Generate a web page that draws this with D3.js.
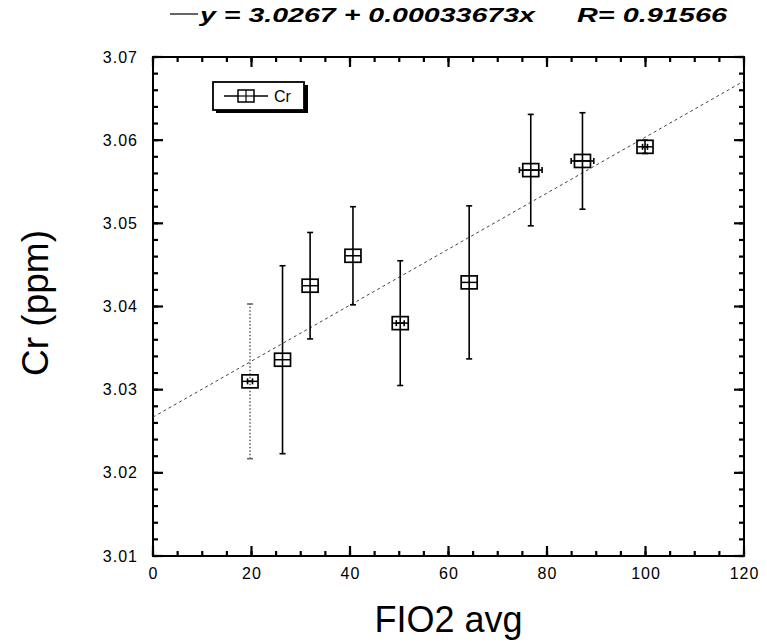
<!DOCTYPE html>
<html>
<head>
<meta charset="utf-8">
<script src="https://cdn.jsdelivr.net/npm/d3@7"></script>
<style>
  html, body { margin: 0; padding: 0; background: #fff; }
  svg { display: block; font-family: "Liberation Sans", Arial, sans-serif; }
</style>
</head>
<body>
<svg id="chart" width="767" height="642"></svg>
<script>
// ---- data ----
const fio2   = [19.7, 26.3, 31.9, 40.6, 50.2, 64.2, 76.7, 87.2, 99.9];
const cr     = [3.0310, 3.0336, 3.0425, 3.0461, 3.0380, 3.0429, 3.0564, 3.0575, 3.0592];
const crErr  = [0.0093, 0.0113, 0.0064, 0.0059, 0.0075, 0.0092, 0.0067, 0.0058, 0.0008];
const fioErr = [0.5, 0, 0, 0, 0.8, 0, 2.3, 2.3, 0.5];
const fitIntercept = 3.0267;
const fitSlope = 0.00033673;
const xTicks = [0, 20, 40, 60, 80, 100, 120];
const yTicks = [3.01, 3.02, 3.03, 3.04, 3.05, 3.06, 3.07];
const titleEq = "y = 3.0267 + 0.00033673x";
const titleR = "R= 0.91566";
const legendLabel = "Cr";

const svg = d3.select("#chart");
const L = 153, R = 744, T = 57, B = 556;
const x = d3.scaleLinear().domain([0, 120]).range([L, R]);
const y = d3.scaleLinear().domain([3.01, 3.07]).range([B, T]);

const xMinor = d3.range(0, 121, 5);
const yMinor = d3.range(0, 31).map(i => 3.01 + i * 0.002);

function styleLabels(g) {
  g.select(".domain").remove();
  g.selectAll(".tick line").remove();
  g.selectAll(".tick text").attr("fill", "#000").style("font-size", "16px")
    .attr("letter-spacing", "1px");
}
svg.append("g").attr("transform", `translate(0,${B})`)
  .call(d3.axisBottom(x).tickValues(xTicks).tickSize(0).tickPadding(12).tickFormat(d3.format("d")))
  .call(styleLabels);
svg.append("g").attr("transform", `translate(${L},0)`)
  .call(d3.axisLeft(y).tickValues(yTicks).tickSize(0).tickPadding(15).tickFormat(d3.format(".2f")))
  .call(styleLabels);

// inward tick marks on all four sides, positioned by the scales
const tg = svg.append("g");
function addLines(vals, fx1, fx2, fy1, fy2, w) {
  vals.forEach(d => {
    tg.append("line").attr("x1", fx1(d)).attr("x2", fx2(d)).attr("y1", fy1(d)).attr("y2", fy2(d))
      .style("stroke", "#000").style("stroke-width", w + "px");
  });
}
function xTickMarks(vals, len, w) {
  addLines(vals, d => x(d), d => x(d), () => B, () => B - len, w);
  addLines(vals, d => x(d), d => x(d), () => T, () => T + len, w);
}
function yTickMarks(vals, len, w) {
  addLines(vals, () => L, () => L + len, d => y(d), d => y(d), w);
  addLines(vals, () => R, () => R - len, d => y(d), d => y(d), w);
}
xTickMarks(xMinor, 5, 2.2);
yTickMarks(yMinor, 5, 2.2);
xTickMarks(xTicks, 10, 2.2);
yTickMarks(yTicks, 10, 2.2);

// frame
svg.append("rect").attr("x", L).attr("y", T).attr("width", R - L).attr("height", B - T)
  .attr("fill", "none").attr("stroke", "#000").attr("stroke-width", 2);

// fit line
svg.append("line")
  .attr("x1", x(0)).attr("y1", y(fitIntercept))
  .attr("x2", x(120)).attr("y2", y(fitIntercept + fitSlope * 120))
  .attr("stroke", "#444").attr("stroke-width", 1).attr("stroke-dasharray", "3,3");

// points
const pts = fio2.map((v, i) => ({ x: v, y: cr[i], ey: crErr[i], ex: fioErr[i], i }));
const gp = svg.append("g");
pts.forEach(p => {
  const g = gp.append("g");
  const dotted = p.i === 0;
  const col = dotted ? "#666" : "#000";
  g.append("line").attr("x1", x(p.x)).attr("x2", x(p.x))
    .attr("y1", y(p.y - p.ey)).attr("y2", y(p.y + p.ey))
    .attr("stroke", col).attr("stroke-width", 1.6)
    .attr("stroke-dasharray", dotted ? "1.5,2" : null);
  [p.y - p.ey, p.y + p.ey].forEach(v => {
    g.append("line").attr("x1", x(p.x) - 3).attr("x2", x(p.x) + 3)
      .attr("y1", y(v)).attr("y2", y(v)).attr("stroke", col).attr("stroke-width", 1.6);
  });
  if (p.ex > 0) {
    g.append("line").attr("x1", x(p.x - p.ex)).attr("x2", x(p.x + p.ex))
      .attr("y1", y(p.y)).attr("y2", y(p.y)).attr("stroke", "#000").attr("stroke-width", 1.6);
    [p.x - p.ex, p.x + p.ex].forEach(v => {
      g.append("line").attr("x1", x(v)).attr("x2", x(v))
        .attr("y1", y(p.y) - 3).attr("y2", y(p.y) + 3).attr("stroke", "#000").attr("stroke-width", 1.6);
    });
  }
  g.append("rect").attr("x", x(p.x) - 8).attr("y", y(p.y) - 6.5)
    .attr("width", 16).attr("height", 13)
    .attr("fill", "none").attr("stroke", "#000").attr("stroke-width", 1.7);
  g.append("line").attr("x1", x(p.x) - 8).attr("x2", x(p.x) + 8)
    .attr("y1", y(p.y)).attr("y2", y(p.y)).attr("stroke", "#000").attr("stroke-width", 1.5);
});

// legend
const lg = svg.append("g");
lg.append("rect").attr("x", 216).attr("y", 85).attr("width", 92).attr("height", 28).attr("fill", "#000");
lg.append("rect").attr("x", 213).attr("y", 82).attr("width", 91).attr("height", 28)
  .attr("fill", "#fff").attr("stroke", "#000").attr("stroke-width", 1.8);
lg.append("line").attr("x1", 224).attr("x2", 268).attr("y1", 96).attr("y2", 96).attr("stroke", "#000").attr("stroke-width", 1.4);
lg.append("rect").attr("x", 238).attr("y", 90).attr("width", 16).attr("height", 12)
  .attr("fill", "#fff").attr("stroke", "#000").attr("stroke-width", 1.5);
lg.append("line").attr("x1", 238).attr("x2", 254).attr("y1", 96).attr("y2", 96).attr("stroke", "#000").attr("stroke-width", 1.2);
lg.append("line").attr("x1", 246).attr("x2", 246).attr("y1", 90).attr("y2", 102).attr("stroke", "#000").attr("stroke-width", 1.2);
lg.append("text").attr("x", 274).attr("y", 102).attr("font-size", 16).attr("fill", "#000").text(legendLabel);

// title
svg.append("line").attr("x1", 170).attr("x2", 198).attr("y1", 14).attr("y2", 14)
  .attr("stroke", "#000").attr("stroke-width", 1.2);
svg.append("text").attr("x", 200).attr("y", 22).attr("font-size", 21)
  .attr("font-weight", "bold").attr("font-style", "italic")
  .attr("textLength", 335).attr("lengthAdjust", "spacingAndGlyphs").text(titleEq);
svg.append("text").attr("x", 577).attr("y", 22).attr("font-size", 21)
  .attr("font-weight", "bold").attr("font-style", "italic")
  .attr("textLength", 150).attr("lengthAdjust", "spacingAndGlyphs").text(titleR);

// axis titles
svg.append("text").attr("x", (L + R) / 2).attr("y", 632).attr("text-anchor", "middle")
  .attr("font-size", 36).attr("fill", "#000").text("FIO2 avg");
svg.append("text").attr("transform", `translate(48,303) rotate(-90)`).attr("text-anchor", "middle")
  .attr("font-size", 37).attr("fill", "#000").text("Cr (ppm)");
</script>
</body>
</html>
